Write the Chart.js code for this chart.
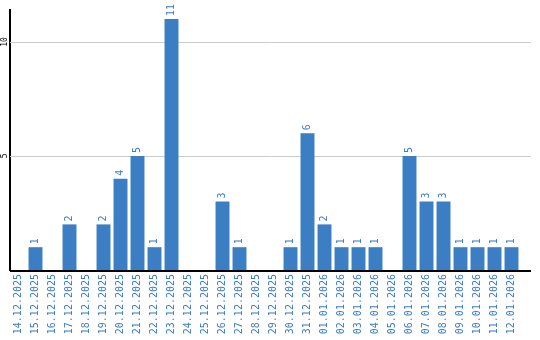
<!DOCTYPE html>
<html>
<head>
<meta charset="utf-8">
<script src="https://cdn.jsdelivr.net/npm/chart.js@4/dist/chart.umd.min.js"></script>
<style>
  html, body { margin: 0; padding: 0; background: #fff; }
  canvas { display: block; }
</style>
</head>
<body>
<canvas id="dayChart" width="540" height="340"></canvas>
<script>
// daily counts, 14.12.2025 - 12.01.2026
var dayLabels = [
    '14.12.2025', '15.12.2025', '16.12.2025', '17.12.2025', '18.12.2025',
    '19.12.2025', '20.12.2025', '21.12.2025', '22.12.2025', '23.12.2025',
    '24.12.2025', '25.12.2025', '26.12.2025', '27.12.2025', '28.12.2025',
    '29.12.2025', '30.12.2025', '31.12.2025', '01.01.2026', '02.01.2026',
    '03.01.2026', '04.01.2026', '05.01.2026', '06.01.2026', '07.01.2026',
    '08.01.2026', '09.01.2026', '10.01.2026', '11.01.2026', '12.01.2026'
];
var dayCounts = [
    0, 1, 0, 2, 0,
    2, 4, 5, 1, 11,
    0, 0, 3, 1, 0,
    0, 1, 6, 2, 1,
    1, 1, 0, 5, 3,
    3, 1, 1, 1, 1
];
var yTickValues = [5, 10];
var yMax = 11.4;

var barColor = '#3b7ec3';
var labelColor = '#3b7bc6';
var monoFont = 'DejaVu Sans Mono';
var extraRight = 11; // grid and axis run a bit past the last bar

// value labels above bars, rotated
var barValueLabels = {
    id: 'barValueLabels',
    afterDatasetsDraw: function (chart) {
        var ctx = chart.ctx;
        var meta = chart.getDatasetMeta(0);
        ctx.save();
        ctx.fillStyle = labelColor;
        ctx.font = '10px ' + monoFont;
        ctx.textAlign = 'left';
        ctx.textBaseline = 'middle';
        meta.data.forEach(function (bar, i) {
            var v = dayCounts[i];
            if (!v) return;
            ctx.save();
            ctx.translate(bar.x, bar.y - 3);
            ctx.rotate(-Math.PI / 2);
            ctx.fillText(String(v), 0, 0);
            ctx.restore();
        });
        ctx.restore();
    }
};

// gridlines, rotated y labels, bottom axis line
var axisExtras = {
    id: 'axisExtras',
    beforeDatasetsDraw: function (chart) {
        var ctx = chart.ctx;
        var area = chart.chartArea;
        var y = chart.scales.y;
        ctx.save();
        ctx.strokeStyle = '#cccccc';
        ctx.lineWidth = 1;
        yTickValues.forEach(function (v) {
            var py = Math.round(y.getPixelForValue(v)) + 0.5;
            ctx.beginPath();
            ctx.moveTo(area.left, py);
            ctx.lineTo(area.right + extraRight, py);
            ctx.stroke();
        });
        ctx.restore();
    },
    afterDraw: function (chart) {
        var ctx = chart.ctx;
        var area = chart.chartArea;
        var y = chart.scales.y;
        ctx.save();
        ctx.fillStyle = '#000';
        ctx.font = '8px ' + monoFont;
        ctx.textAlign = 'center';
        ctx.textBaseline = 'middle';
        yTickValues.forEach(function (v) {
            ctx.save();
            ctx.translate(5, y.getPixelForValue(v));
            ctx.rotate(-Math.PI / 2);
            ctx.fillText(String(v), 0, 0);
            ctx.restore();
        });
        ctx.strokeStyle = '#000';
        ctx.lineWidth = 2;
        ctx.beginPath();
        ctx.moveTo(area.left, area.bottom + 1);
        ctx.lineTo(area.right + extraRight, area.bottom + 1);
        ctx.stroke();
        ctx.restore();
    }
};

new Chart(document.getElementById('dayChart'), {
    type: 'bar',
    data: {
        labels: dayLabels,
        datasets: [{
            data: dayCounts,
            backgroundColor: barColor,
            categoryPercentage: 1,
            barPercentage: 0.82
        }]
    },
    options: {
        responsive: false,
        animation: false,
        layout: { padding: { top: 10, right: 20, left: 0, bottom: 0 } },
        plugins: {
            legend: { display: false },
            title: { display: false },
            tooltip: { enabled: false }
        },
        scales: {
            x: {
                grid: { display: false, drawTicks: false },
                border: { display: false },
                ticks: {
                    color: labelColor,
                    font: { family: monoFont, size: 10 },
                    minRotation: 90,
                    maxRotation: 90,
                    autoSkip: false,
                    padding: 4
                },
                afterFit: function (s) { s.height = 70; }
            },
            y: {
                min: 0,
                max: yMax,
                grid: { display: false, drawTicks: false },
                border: { color: '#000', width: 2 },
                ticks: { display: false },
                afterBuildTicks: function (s) {
                    s.ticks = yTickValues.map(function (v) { return { value: v }; });
                },
                afterFit: function (s) { s.width = 10; }
            }
        }
    },
    plugins: [barValueLabels, axisExtras]
});
</script>
</body>
</html>
